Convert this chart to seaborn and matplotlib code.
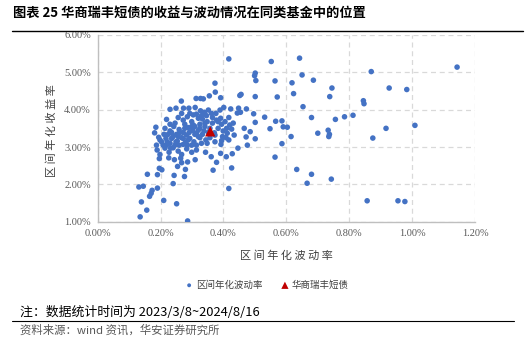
import numpy as np
import pandas as pd
import matplotlib
matplotlib.use("Agg")
import matplotlib.pyplot as plt
from matplotlib.ticker import FuncFormatter
import seaborn as sns

# ---------------- data (percent units) ----------------
vol_outer = [1.143, 0.642, 0.870, 0.650, 0.618, 0.686, 0.745, 0.623, 0.738, 0.927, 0.983,
             0.845, 0.847, 0.653, 0.680, 0.756, 0.785, 0.812, 0.586, 0.590, 0.603, 0.733,
             0.737, 0.735, 0.700, 0.615, 0.586, 0.917, 0.875, 1.009, 0.633, 0.680, 0.666,
             0.743, 0.857, 0.955, 0.977,
             0.417, 0.552, 0.501, 0.499, 0.503, 0.564, 0.373, 0.374, 0.456, 0.501, 0.571,
             0.496, 0.531, 0.501, 0.566, 0.548,
             0.485, 0.501, 0.564, 0.417,
             0.286, 0.135, 0.156, 0.139, 0.210, 0.251, 0.165, 0.170, 0.173, 0.190, 0.131,
             0.145, 0.240, 0.158]
ret_outer = [5.14, 5.38, 5.02, 4.93, 4.72, 4.79, 4.58, 4.43, 4.35, 4.58, 4.54,
             4.24, 4.16, 4.08, 3.79, 3.74, 3.81, 3.85, 3.70, 3.54, 3.53, 3.45,
             3.34, 3.28, 3.37, 3.28, 3.09, 3.50, 3.24, 3.58, 2.40, 2.27, 2.03,
             2.14, 1.56, 1.56, 1.54,
             5.36, 5.29, 4.98, 4.91, 4.78, 4.77, 4.71, 4.47, 4.41, 4.35, 4.34,
             3.89, 3.80, 3.66, 3.69, 3.49,
             3.41, 3.22, 2.73, 1.89,
             1.02, 1.13, 1.31, 1.53, 1.57, 1.48, 1.68, 1.76, 1.84, 1.90, 1.93,
             1.95, 2.02, 2.27]

vol_core = [0.266, 0.313, 0.327, 0.336, 0.355, 0.391, 0.452,
            0.230, 0.249, 0.273, 0.290, 0.310, 0.327, 0.339, 0.352, 0.376, 0.389, 0.401,
            0.423, 0.448, 0.473, 0.444, 0.454, 0.293, 0.314,
            0.219, 0.256, 0.272, 0.285, 0.299, 0.320, 0.333, 0.346, 0.365, 0.378, 0.391,
            0.405, 0.417, 0.431, 0.277, 0.304, 0.341, 0.394, 0.420,
            0.181, 0.185, 0.214, 0.230, 0.242, 0.259, 0.272, 0.288, 0.302, 0.314, 0.325,
            0.338, 0.352, 0.371, 0.383, 0.399, 0.412, 0.426, 0.466, 0.224, 0.251, 0.283,
            0.309, 0.434,
            0.194, 0.203, 0.217, 0.230, 0.240, 0.253, 0.267, 0.280, 0.293, 0.306, 0.320,
            0.330, 0.344, 0.357, 0.373, 0.392, 0.394, 0.408, 0.472, 0.476, 0.208, 0.246,
            0.272, 0.299, 0.314, 0.417,
            0.189, 0.198, 0.214, 0.227, 0.240, 0.256, 0.267, 0.283, 0.299, 0.314,
            0.343, 0.361, 0.391, 0.409, 0.428, 0.446,
            0.196, 0.204, 0.279, 0.254, 0.267, 0.286, 0.244, 0.226, 0.264, 0.196, 0.190,
            0.243, 0.276, 0.310, 0.378, 0.426, 0.367,
            0.198, 0.211, 0.221, 0.235, 0.235, 0.249, 0.256, 0.261, 0.272, 0.277, 0.288,
            0.291, 0.299, 0.309, 0.320, 0.325, 0.333, 0.341, 0.348, 0.357, 0.365, 0.373,
            0.383, 0.232, 0.219, 0.259, 0.187, 0.285, 0.325, 0.348, 0.304, 0.330, 0.362,
            0.267, 0.246, 0.230, 0.410, 0.397]
ret_core = [4.23, 4.30, 4.30, 4.29, 4.37, 4.32, 4.38,
            4.01, 4.04, 4.04, 4.04, 4.06, 3.97, 3.93, 3.99, 3.90, 3.99, 4.06,
            4.02, 4.04, 4.02, 3.91, 3.93, 3.90, 3.88,
            3.74, 3.79, 3.72, 3.81, 3.68, 3.77, 3.75, 3.84, 3.79, 3.72, 3.77,
            3.68, 3.79, 3.64, 3.61, 3.59, 3.64, 3.61, 3.59,
            3.38, 3.53, 3.50, 3.43, 3.55, 3.47, 3.39, 3.52, 3.45, 3.37, 3.50,
            3.43, 3.39, 3.38, 3.50, 3.43, 3.37, 3.48, 3.50, 3.34, 3.34, 3.32,
            3.55, 3.32,
            3.26, 3.14, 3.23, 3.10, 3.28, 3.16, 3.25, 3.13, 3.23, 3.14, 3.28,
            3.10, 3.19, 3.25, 3.14, 3.07, 3.17, 3.25, 3.27, 3.05, 3.05, 3.05,
            3.07, 3.05, 3.05, 3.19,
            2.92, 2.80, 2.97, 2.86, 2.98, 2.89, 2.80, 2.95, 2.86, 2.92,
            2.86, 2.74, 2.83, 2.74, 2.82, 2.97,
            2.43, 2.39, 2.40, 2.48, 2.58, 2.60, 2.66, 2.71, 2.70, 2.69, 2.26,
            2.24, 2.21, 2.66, 2.59, 2.44, 2.38,
            3.19, 3.34, 3.14, 3.23, 3.39, 3.14, 3.28, 3.39, 3.23, 3.50, 3.19,
            3.39, 3.55, 3.34, 3.45, 3.61, 3.34, 3.55, 3.68, 3.50, 3.64, 3.32,
            3.68, 2.97, 3.05, 3.05, 3.05, 3.05, 3.25, 3.10, 3.86, 3.84, 3.90,
            3.90, 3.64, 3.61, 3.50, 3.28]

fund_vol = [0.358]
fund_ret = [3.42]

series_peer = "区间年化波动率"
series_fund = "华商瑞丰短债"
x_ticks = [0.0, 0.2, 0.4, 0.6, 0.8, 1.0, 1.2]
y_ticks = [1.0, 2.0, 3.0, 4.0, 5.0, 6.0]

title = "图表 25 华商瑞丰短债的收益与波动情况在同类基金中的位置"
xlabel = "区 间 年 化 波 动 率"
ylabel = "区 间 年 化 收 益 率"
note = "注：数据统计时间为 2023/3/8~2024/8/16"
source = "资料来源：wind 资讯，华安证券研究所"

# ---------------- plotting ----------------
sns.set_style("white")
plt.rcParams['font.family'] = ['Noto Sans CJK SC', 'DejaVu Sans']

peers = pd.DataFrame({"vol": vol_outer + vol_core, "ret": ret_outer + ret_core})
fund = pd.DataFrame({"vol": fund_vol, "ret": fund_ret})

fig = plt.figure(figsize=(5.26, 3.39), dpi=100)
ax = fig.add_axes([97.7 / 526, 1 - 221.7 / 339, (475 - 97.7) / 526, (221.7 - 35) / 339])

blue = "#4472C4"
red = "#C00000"
sns.scatterplot(data=peers, x="vol", y="ret", ax=ax, color=blue, s=16,
                edgecolor="none", label=series_peer, zorder=3)
sns.scatterplot(data=fund, x="vol", y="ret", ax=ax, color=red, marker="^", s=55,
                edgecolor="none", label=series_fund, zorder=4)

ax.set_xlim(0, 1.2)
ax.set_ylim(1, 6)
ax.set_xticks(x_ticks)
ax.set_yticks(y_ticks)
ax.xaxis.set_major_formatter(FuncFormatter(lambda v, p: f"{v:.2f}%"))
ax.yaxis.set_major_formatter(FuncFormatter(lambda v, p: f"{v:.2f}%"))
ax.grid(True, color="#D9D9D9", linestyle=(0, (4, 3)), linewidth=0.9)
ax.set_axisbelow(True)
for s in ["top", "right"]:
    ax.spines[s].set_visible(False)
for s in ["left", "bottom"]:
    ax.spines[s].set_color("#BFBFBF")
    ax.spines[s].set_linewidth(1.0)
ax.tick_params(length=0, pad=5, colors="#595959")
for lab in ax.get_xticklabels() + ax.get_yticklabels():
    lab.set_fontfamily("Liberation Serif")
    lab.set_fontsize(7.5)
    lab.set_color("#595959")
ax.set_xlabel("")
ax.set_ylabel("")

fig.text(286 / 526, 1 - 256 / 339, xlabel, ha="center", va="center", fontsize=8, color="#404040")
fig.text(52 / 526, 1 - 131 / 339, ylabel, ha="center", va="center", fontsize=8,
         color="#404040", rotation=90)

leg = ax.legend(loc="center", bbox_to_anchor=(266 / 526, 1 - 285 / 339),
                bbox_transform=fig.transFigure, ncol=2, frameon=False, fontsize=6.8,
                handletextpad=0.1, columnspacing=1.8, markerscale=0.7, handlelength=1.2)
for t in leg.get_texts():
    t.set_color("#404040")

# title, rules, note, source
fig.text(13 / 526, 1 - 13 / 339, title, ha="left", va="center", fontsize=9.5,
         fontweight="bold", color="#000000")
fig.add_artist(plt.Line2D([12 / 526, 523 / 526], [1 - 31 / 339, 1 - 31 / 339],
                          color="black", linewidth=1.0, transform=fig.transFigure))
fig.text(20 / 526, 1 - 312 / 339, note, ha="left", va="center", fontsize=9.3, color="#000000")
fig.add_artist(plt.Line2D([12 / 526, 514 / 526], [1 - 321 / 339, 1 - 321 / 339],
                          color="black", linewidth=0.8, transform=fig.transFigure))
fig.text(20 / 526, 1 - 330 / 339, source, ha="left", va="center", fontsize=8.2, color="#595959")

fig.savefig("out.png", dpi=100)
